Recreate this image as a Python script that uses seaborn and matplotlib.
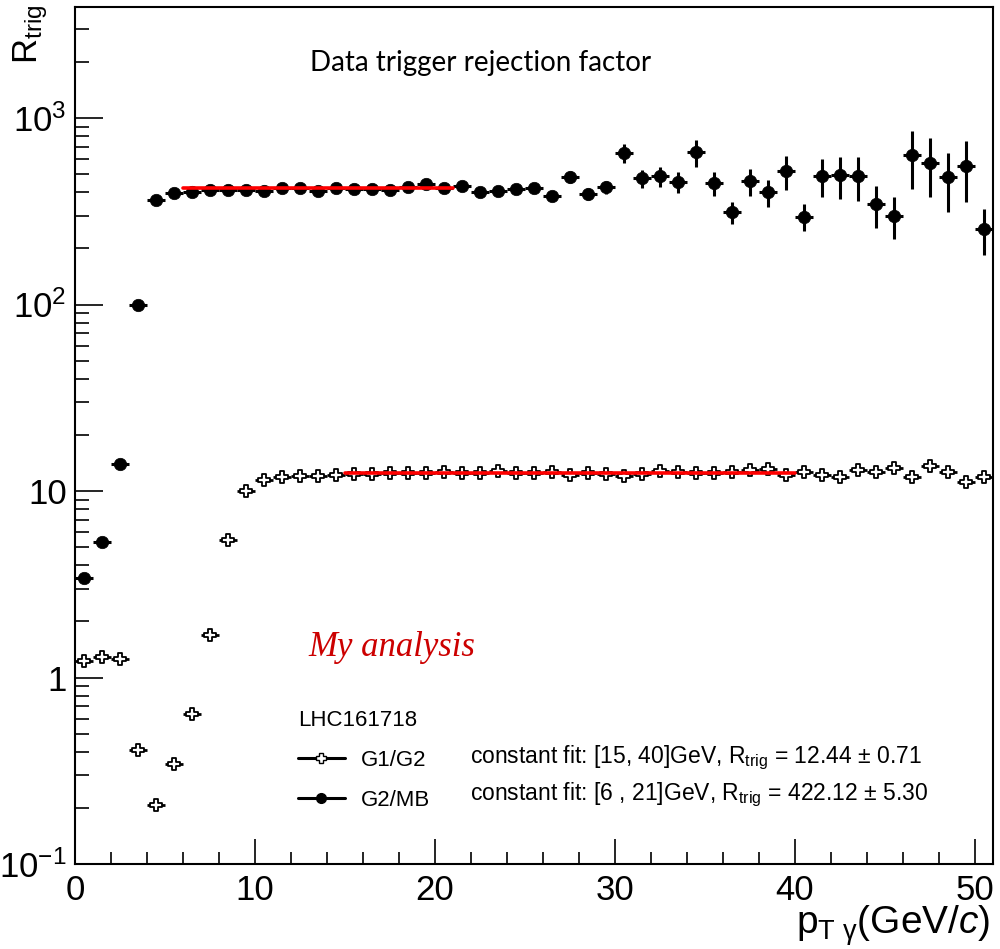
import numpy as np
import pandas as pd
import matplotlib
matplotlib.use("Agg")
import matplotlib.pyplot as plt
import seaborn as sns
from matplotlib.ticker import FixedLocator, FixedFormatter, LogLocator, MultipleLocator, NullFormatter
from matplotlib.lines import Line2D

# ---------------- data ----------------
pt_centers = np.arange(0.5, 51.0, 1.0)
pt_halfwidth = 0.5

g2mb = [3.40, 5.3, 14.0, 99, 364, 397, 403, 410, 412, 412,
        408, 422, 420, 408, 420, 415, 415, 410, 426, 444,
        421, 431, 403, 408, 414, 422, 381, 484, 392, 426,
        648, 476, 487, 453, 656, 449, 313, 458, 400, 519,
        296, 490, 492, 487, 344, 300, 637, 577, 482, 556,
        255]
g2mb_err = [0.05, 0.08, 0.2, 1.5, 5, 6, 6, 6, 6, 7,
            7, 7, 8, 8, 8, 8, 9, 9, 10, 10,
            10, 11, 11, 12, 13, 14, 15, 37, 30, 36,
            75, 52, 60, 59, 110, 66, 43, 78, 68, 109,
            48, 113, 123, 130, 86, 75, 220, 200, 170, 200,
            70]

g1g2 = [1.22, 1.285, 1.26, 0.41, 0.206, 0.344, 0.64, 1.70, 5.47, 9.98,
        11.48, 11.86, 12.1, 12.1, 12.25, 12.35, 12.35, 12.5, 12.5, 12.5,
        12.7, 12.5, 12.5, 12.77, 12.5, 12.5, 12.6, 12.2, 12.45, 12.35,
        12.1, 12.35, 12.77, 12.6, 12.5, 12.5, 12.6, 13.0, 13.15, 12.2,
        12.6, 12.25, 11.86, 13.0, 12.7, 13.25, 11.86, 13.7, 12.6, 11.15,
        11.86]
g1g2_err = [0.02, 0.02, 0.02, 0.01, 0.005, 0.01, 0.02, 0.04, 0.1, 0.15,
            0.15, 0.15, 0.15, 0.15, 0.15, 0.15, 0.15, 0.15, 0.16, 0.16,
            0.17, 0.17, 0.18, 0.18, 0.19, 0.2, 0.2, 0.21, 0.22, 0.23,
            0.24, 0.25, 0.26, 0.27, 0.28, 0.3, 0.31, 0.33, 0.35, 0.37,
            0.4, 0.42, 0.44, 0.46, 0.5, 0.52, 0.55, 0.6, 0.62, 0.65,
            0.7]

fit_g1g2_range = [15, 40]
fit_g1g2_value = 12.44
fit_g2mb_range = [6, 21]
fit_g2mb_value = 422.12

y_ticks = [0.1, 1, 10, 100, 1000]
y_tick_labels = [r"$\mathregular{10^{-1}}$", "1", "10", r"$\mathregular{10^{2}}$", r"$\mathregular{10^{3}}$"]
x_ticks = [0, 10, 20, 30, 40, 50]

title_text = "Data trigger rejection factor"
tag_text = "My analysis"
legend_title = "LHC161718"
series_labels = ["G1/G2", "G2/MB"]
fit_texts = [r"constant fit: [15, 40]GeV, R$_{\mathregular{trig}}$ = 12.44 $\mathregular{\pm}$ 0.71",
             r"constant fit: [6 , 21]GeV, R$_{\mathregular{trig}}$ = 422.12 $\mathregular{\pm}$ 5.30"]

df = pd.DataFrame({"pt": pt_centers, "g2mb": g2mb, "g2mb_err": g2mb_err,
                   "g1g2": g1g2, "g1g2_err": g1g2_err})

# ---------------- style ----------------
sns.set_theme(style="ticks")
plt.rcParams["font.family"] = ["Liberation Sans", "DejaVu Sans"]
plt.rcParams["mathtext.fontset"] = "custom"
plt.rcParams["mathtext.rm"] = "Liberation Sans"
plt.rcParams["mathtext.it"] = "Liberation Sans:italic"
plt.rcParams["mathtext.sf"] = "Liberation Sans"
plt.rcParams["text.color"] = "black"
plt.rcParams["axes.labelcolor"] = "black"
plt.rcParams["xtick.color"] = "black"
plt.rcParams["ytick.color"] = "black"
plt.rcParams["legend.labelcolor"] = "black"

fig = plt.figure(figsize=(10, 9.49), dpi=100)
W, H = 1000.0, 949.0
ax = fig.add_axes([75 / W, 1 - 864 / H, 918 / W, (864 - 7) / H])

# error bars
ax.errorbar(df["pt"], df["g2mb"], yerr=df["g2mb_err"], xerr=pt_halfwidth, fmt="none",
            ecolor="black", elinewidth=2.2, capsize=0, zorder=2)
ax.errorbar(df["pt"], df["g1g2"], yerr=df["g1g2_err"], xerr=pt_halfwidth, fmt="none",
            ecolor="black", elinewidth=2.0, capsize=0, zorder=2)

# markers
sns.scatterplot(data=df, x="pt", y="g2mb", marker="o", s=80, color="black",
                edgecolor="black", linewidth=0.5, ax=ax, zorder=3, legend=False)
sns.scatterplot(data=df, x="pt", y="g1g2", marker="P", s=80, color="white",
                edgecolor="black", linewidth=1.3, ax=ax, zorder=3, legend=False)

# fit lines
fit_df = pd.DataFrame({"x": fit_g1g2_range + fit_g2mb_range,
                       "y": [fit_g1g2_value] * 2 + [fit_g2mb_value] * 2,
                       "fit": ["g1g2"] * 2 + ["g2mb"] * 2})
sns.lineplot(data=fit_df, x="x", y="y", units="fit", estimator=None, color="#ff0000",
             lw=2.6, ax=ax, zorder=4, legend=False)

# axes
ax.set_yscale("log")
ax.set_xlim(0, 51)
ax.set_ylim(0.1, 3940)
ax.yaxis.set_major_locator(FixedLocator(y_ticks))
ax.yaxis.set_major_formatter(FixedFormatter(y_tick_labels))
ax.yaxis.set_minor_locator(LogLocator(base=10, subs=np.arange(2, 10), numticks=20))
ax.yaxis.set_minor_formatter(NullFormatter())
ax.xaxis.set_major_locator(FixedLocator(x_ticks))
ax.xaxis.set_minor_locator(MultipleLocator(2))
ax.set_xlabel("")
ax.set_ylabel("")

ax.tick_params(axis="x", which="major", direction="in", length=18, width=1.2,
               labelsize=25, pad=7, color="black", labelcolor="black", top=False)
ax.tick_params(axis="x", which="minor", direction="in", length=9, width=1.2, color="black", top=False)
ax.tick_params(axis="y", which="major", direction="in", length=20, width=1.2,
               labelsize=25, pad=6, color="black", labelcolor="black", right=False)
ax.tick_params(axis="y", which="minor", direction="in", length=10, width=1.2, color="black", right=False)
for sp in ax.spines.values():
    sp.set_visible(True)
    sp.set_color("black")
    sp.set_linewidth(1.5)

# axis titles
fig.text(990 / W, 1 - 926 / H,
         r"$\mathregular{p_{T\ \gamma}(GeV/}c\mathregular{)}$",
         ha="right", va="center", fontsize=28, color="black")
fig.text(31 / W, 1 - 4 / H, r"$\mathregular{R_{trig}}$", rotation=90,
         ha="center", va="top", fontsize=25, color="black")

# annotations
fig.text(310 / W, 1 - 63 / H, title_text, ha="left", va="center",
         fontsize=20, family=["Lato", "DejaVu Sans"], color="black")
fig.text(308 / W, 1 - 647 / H, tag_text, ha="left", va="center", fontsize=25,
         color="#cc0000", style="italic", family=["Liberation Serif", "DejaVu Serif"])

# legend
handles = [Line2D([], [], color="black", lw=2.2, marker="P", markersize=7,
                  markerfacecolor="white", markeredgecolor="black", markeredgewidth=1.0),
           Line2D([], [], color="black", lw=2.2, marker="o", markersize=7)]
leg = ax.legend(handles, series_labels, title=legend_title, loc="upper left",
                bbox_to_anchor=(298 / W, 1 - 710 / H), bbox_transform=fig.transFigure,
                frameon=False, fontsize=16, title_fontsize=16, handlelength=2.1,
                handletextpad=0.75, labelspacing=0.85, borderpad=0, borderaxespad=0,
                alignment="left")
leg.get_title().set_color("black")
for t in leg.get_texts():
    t.set_color("black")
fig.text(470 / W, 1 - 758 / H, fit_texts[0], ha="left", va="center", fontsize=16.5, color="black")
fig.text(470 / W, 1 - 795 / H, fit_texts[1], ha="left", va="center", fontsize=16.5, color="black")

fig.savefig("out.png", dpi=100)
